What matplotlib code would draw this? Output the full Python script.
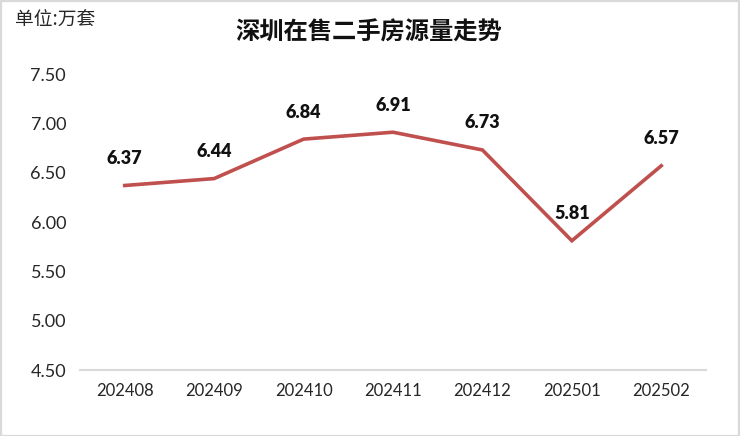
import matplotlib
matplotlib.use("Agg")
import matplotlib.pyplot as plt
from matplotlib.patches import Rectangle

plt.rcParams['font.family'] = ['Lato', 'Noto Sans CJK SC', 'DejaVu Sans']

months = ['202408', '202409', '202410', '202411', '202412', '202501', '202502']
values = [6.37, 6.44, 6.84, 6.91, 6.73, 5.81, 6.57]
yticks = [4.50, 5.00, 5.50, 6.00, 6.50, 7.00, 7.50]
title = '深圳在售二手房源量走势'
unit = '单位:万套'

fig = plt.figure(figsize=(7.4, 4.36), dpi=100)
ax = fig.add_axes([80/740, 1-370/436, 626/740, 296/436])

x = list(range(len(months)))
ax.plot(x, values, color='#C0504D', linewidth=2.6, solid_joinstyle='miter')
ax.set_xlim(-0.5, len(months) - 0.5)
ax.set_ylim(4.5, 7.5)
ax.set_xticks(x)
ax.set_xticklabels(months, fontsize=12, color='#262626')
ax.set_yticks(yticks)
ax.set_yticklabels([f'{v:.2f}' for v in yticks], fontsize=13, color='#262626')
ax.tick_params(axis='both', length=0)
ax.tick_params(axis='x', pad=9)
ax.tick_params(axis='y', pad=10)
for s in ['top', 'right', 'left']:
    ax.spines[s].set_visible(False)
ax.spines['bottom'].set_color('#D9D9D9')
ax.spines['bottom'].set_linewidth(1.5)

for xi, v in zip(x, values):
    ax.annotate(f'{v:.2f}', (xi, v), xytext=(0, 19.5), textcoords='offset points',
                ha='center', va='center', fontsize=13, fontweight='heavy', color='#111111')

fig.text(369/740, 1-33/436, title, ha='center', va='center', fontsize=17.5,
         family=['Noto Sans CJK SC', 'DejaVu Sans'], fontweight='bold', color='#111111')
fig.text(15/740, 1-20/436, unit, ha='left', va='center', fontsize=13.5,
         family=['Noto Sans CJK SC', 'DejaVu Sans'], color='#262626')

fig.add_artist(Rectangle((0.5/740, 0.5/436), 738/740, 434.5/436, transform=fig.transFigure,
                         fill=False, edgecolor='#D9D9D9', linewidth=1.6))

fig.savefig('out.png', dpi=100)
